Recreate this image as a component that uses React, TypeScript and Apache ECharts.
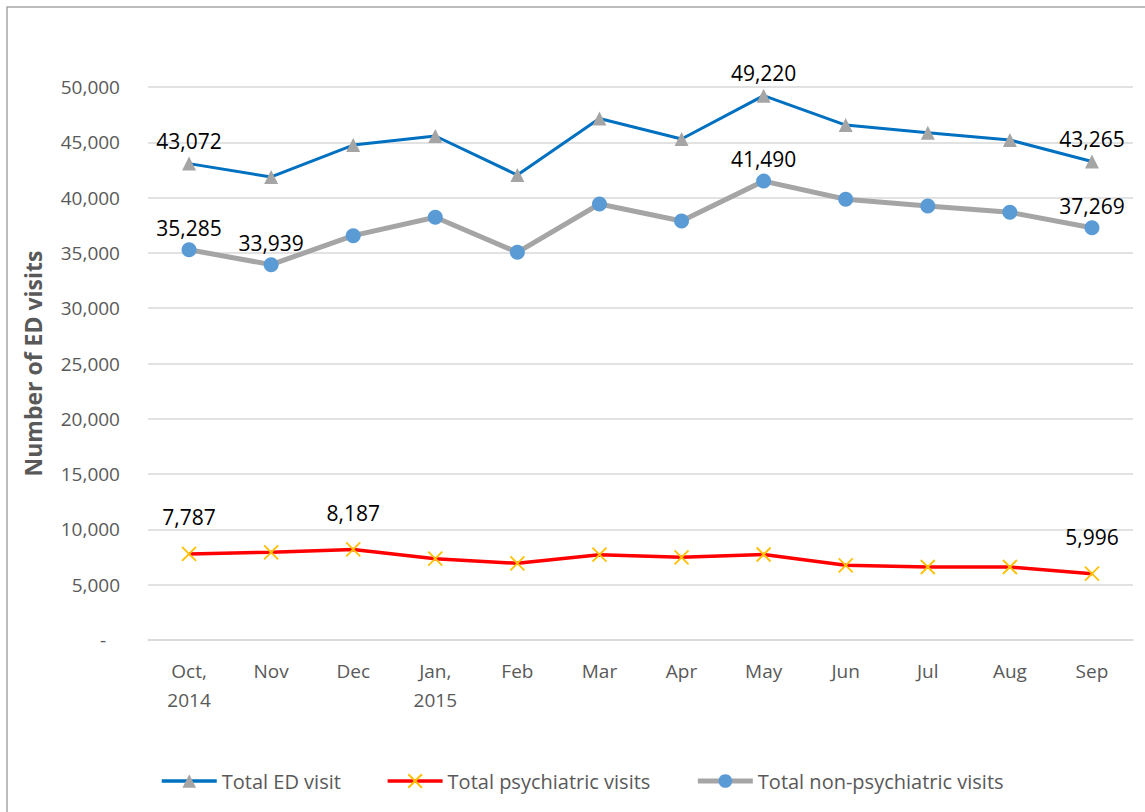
import React, { useEffect, useRef } from "react";
import * as echarts from "echarts";

const categories = ["Oct,\n2014", "Nov", "Dec", "Jan,\n2015", "Feb", "Mar", "Apr", "May", "Jun", "Jul", "Aug", "Sep"];
const totalED = [43072, 41869, 44747, 45570, 42040, 47150, 45300, 49220, 46560, 45870, 45210, 43265];
const psych = [7787, 7930, 8187, 7350, 6930, 7710, 7480, 7730, 6750, 6600, 6600, 5996];
const nonPsych = [35285, 33939, 36560, 38220, 35050, 39420, 37880, 41490, 39850, 39240, 38670, 37269];
const edLabelIdx = [0, 7, 11];
const psychLabelIdx = [0, 2, 11];
const nonPsychLabelIdx = [0, 1, 7, 11];

const FONT = "'Open Sans', 'Noto Sans', sans-serif";
const fmt = (v: number) => v.toLocaleString("en-US");

export default function App() {
  const ref = useRef<HTMLDivElement>(null);
  useEffect(() => {
    if (!ref.current) return;
    const chart = echarts.init(ref.current, undefined, { renderer: "svg" });
    const labelStyle = (idx: number[], distance: number) => ({
      show: true,
      position: "top" as const,
      distance,
      fontFamily: FONT,
      fontSize: 21,
      color: "#000",
      formatter: (p: any) => (idx.includes(p.dataIndex) ? fmt(p.value) : ""),
    });
    chart.setOption({
      animation: false,
      backgroundColor: "#fff",
      textStyle: { fontFamily: FONT },
      graphic: [
        {
          type: "rect",
          shape: { x: 7, y: 7, width: 1150, height: 820 },
          style: { fill: "none", stroke: "#a6a6a6", lineWidth: 1.5 },
          silent: true,
          z: -1,
        },
      ],
      grid: { left: 148, right: 12, top: 87, bottom: 172 },
      xAxis: {
        type: "category",
        data: categories,
        boundaryGap: true,
        axisLine: { show: true, lineStyle: { color: "#d9d9d9", width: 1.5 } },
        axisTick: { show: false },
        axisLabel: { color: "#595959", fontSize: 19, fontFamily: FONT, margin: 16, lineHeight: 29 },
      },
      yAxis: {
        type: "value",
        min: 0,
        max: 50000,
        interval: 5000,
        name: "Number of ED visits",
        nameLocation: "middle",
        nameGap: 104,
        nameTextStyle: { color: "#595959", fontSize: 23, fontWeight: "bold", fontFamily: FONT },
        axisLine: { show: false },
        axisTick: { show: false },
        splitLine: { lineStyle: { color: "#d9d9d9", width: 1.5 } },
        axisLabel: {
          color: "#595959",
          fontSize: 19,
          fontFamily: FONT,
          margin: 28,
          formatter: (v: number) => (v === 0 ? "{z|-}" : fmt(v)),
          rich: { z: { padding: [0, 14, 0, 0], fontSize: 19, color: "#595959" } },
        },
      },
      legend: {
        left: 155,
        top: 766,
        itemWidth: 55,
        itemHeight: 17,
        itemGap: 45,
        textStyle: { color: "#595959", fontSize: 20, fontFamily: FONT },
        data: [
          { name: "Total ED visit", lineStyle: { color: "#0070c0", width: 3.5 } },
          { name: "Total psychiatric visits", lineStyle: { color: "#ff0000", width: 3.5 } },
          { name: "Total non-psychiatric visits", lineStyle: { color: "#a5a5a5", width: 5 } },
        ],
      },
      series: [
        {
          name: "Total ED visit",
          type: "line",
          data: totalED,
          lineStyle: { color: "#0070c0", width: 3 },
          itemStyle: { color: "#a5a5a5" },
          symbol: "triangle",
          symbolSize: 14,
          label: labelStyle(edLabelIdx, 5),
          z: 3,
        },
        {
          name: "Total psychiatric visits",
          type: "line",
          data: psych,
          lineStyle: { color: "#ff0000", width: 3.5 },
          itemStyle: { color: "rgba(0,0,0,0)", borderColor: "#ffc000", borderWidth: 1.8 },
          symbol: "path://M0,0L10,10M10,0L0,10",
          symbolSize: 14,
          label: labelStyle(psychLabelIdx, 18),
          z: 3,
        },
        {
          name: "Total non-psychiatric visits",
          type: "line",
          data: nonPsych,
          lineStyle: { color: "#a5a5a5", width: 5 },
          itemStyle: { color: "#5b9bd5" },
          symbol: "circle",
          symbolSize: 15,
          label: labelStyle(nonPsychLabelIdx, 4),
          z: 2,
        },
      ],
    });
    return () => chart.dispose();
  }, []);
  return (
    <div
      ref={ref}
      style={{ position: "absolute", left: 0, top: 0, width: 1145, height: 812 }}
    />
  );
}
